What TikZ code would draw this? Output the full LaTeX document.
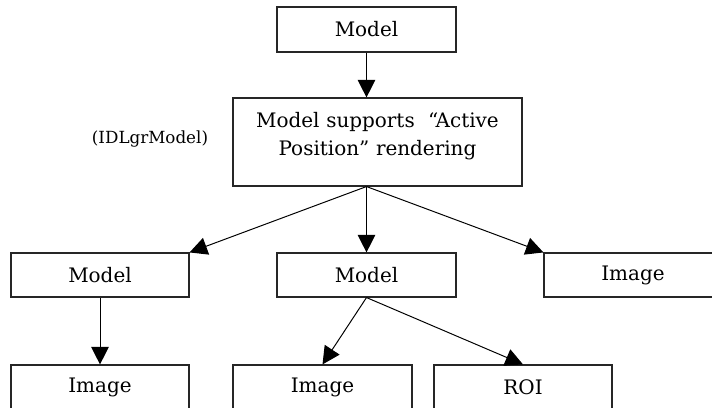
\documentclass[tikz,border=0pt]{standalone}
\usepackage{fontspec}
\setmainfont{DejaVu Serif}
\usepackage{tikz}
\usetikzlibrary{
    arrows.meta,
    positioning,
    calc
}
\tikzstyle{block} = [
    rectangle,
    draw=black!85,
    line width=0.8pt,
    fill=white,
    minimum width=4.45cm,
    minimum height=1.1cm,
    inner sep=0pt,
    font=\fontsize{14.2pt}{19.9pt}\selectfont
]
\tikzstyle{arrow} = [
    -{Triangle[length=0.44cm, width=0.44cm]},
    line width=0.7pt,
    draw=black
]

\begin{document}
\begin{tikzpicture}
        \useasboundingbox (0,0) rectangle (17.8,10.2);
        \clip (0,0) rectangle (17.8,10.2);

        % Top
        \node[block, minimum width=4.475cm, minimum height=1.125cm] (top_model) at (9.1625,9.4625) {Model};
        \node[block, minimum width=7.225cm, minimum height=2.2cm, text width=6.6cm, align=center] (active) at (9.4375,6.65) {Model supports~ “Active\\Position” rendering\\[-0.3cm]\mbox{}};
        \node[font=\fontsize{11.9pt}{14pt}\selectfont] (idl_label) at (3.75,6.725) {(IDLgrModel)};

        % Second row
        \node[block] (left_model) at (2.5,3.325) {Model};
        \node[block, minimum width=4.475cm] (mid_model) at (9.1625,3.325) {Model};
        \node[block] (right_image) at (15.825,3.325) {Image};

        % Third row
        \node[block] (left_image) at (2.5,0.525) {Image};
        \node[block, minimum width=4.475cm] (mid_image) at (8.0625,0.525) {Image};
        \node[block] (roi) at (13.075,0.525) {ROI};

        % Arrows
        \coordinate (split) at (active.south -| top_model.south);
        \draw[arrow] (top_model.south) -- (top_model.south |- active.north);
        \draw[arrow] (split) -- (left_model.north east);
        \draw[arrow] (split) -- (mid_model.north);
        \draw[arrow] (split) -- (right_image.north west);
        \draw[arrow] (left_model) -- (left_image);
        \draw[arrow] (mid_model.south) -- (mid_image.north);
        \draw[arrow] (mid_model.south) -- (roi.north);
    \end{tikzpicture}
\end{document}
